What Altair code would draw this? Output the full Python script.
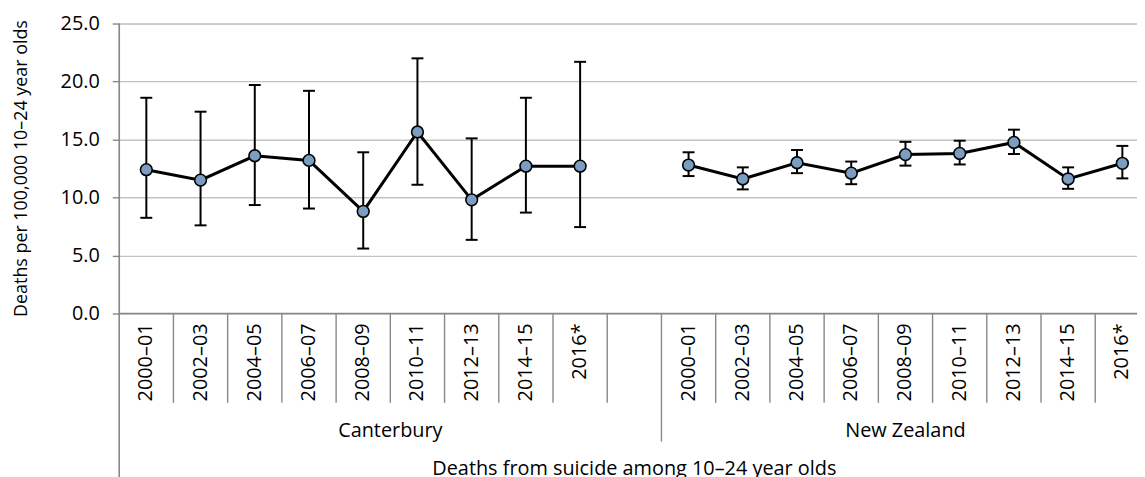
import altair as alt
import pandas as pd

# ---- data ----
periods = ["2000–01", "2002–03", "2004–05", "2006–07", "2008–09",
           "2010–11", "2012–13", "2014–15", "2016*"]
groups = ["Canterbury", "New Zealand"]

cant_rate = [12.4, 11.5, 13.6, 13.2, 8.8, 15.65, 9.8, 12.7, 12.7]
cant_low = [8.25, 7.6, 9.35, 9.05, 5.6, 11.1, 6.35, 8.7, 7.45]
cant_high = [18.6, 17.4, 19.7, 19.2, 13.9, 22.0, 15.1, 18.6, 21.7]

nz_rate = [12.8, 11.6, 13.0, 12.1, 13.7, 13.8, 14.75, 11.6, 12.95]
nz_low = [11.85, 10.7, 12.1, 11.15, 12.75, 12.85, 13.75, 10.75, 11.65]
nz_high = [13.9, 12.6, 14.1, 13.1, 14.8, 14.9, 15.85, 12.6, 14.45]

axis_title_y = "Deaths per 100,000 10–24 year olds"
axis_title_x = "Deaths from suicide among 10–24 year olds"

# ---- build tables ----
rows = []
series = [(cant_rate, cant_low, cant_high), (nz_rate, nz_low, nz_high)]
n = len(periods)
for g, (rate, low, high) in enumerate(series):
    for i, p in enumerate(periods):
        idx = g * (n + 1) + i
        rows.append({"group": groups[g], "period": p, "xc": idx + 0.5,
                     "rate": rate[i], "low": low[i], "high": high[i]})
df = pd.DataFrame(rows)

total_slots = 2 * n + 1
inner_bounds = pd.DataFrame({"b": [k for k in range(1, total_slots) if k != n + 1]})
group_bounds = pd.DataFrame({"b": [n + 1]})
group_labels = pd.DataFrame({"group": groups,
                             "xc": [(n + 1) / 2, (n + 1) + n / 2]})
title_df = pd.DataFrame({"t": [axis_title_x], "xc": [total_slots / 2]})
ytitle_df = pd.DataFrame({"t": [axis_title_y]})

FONT = "Open Sans"
GRAY = "#878787"
PLOT_H = 292
PLOT_W = 1025

xscale = alt.Scale(domain=[0, 18.77], nice=False, zero=False)
yscale = alt.Scale(domain=[0, 25], nice=False)

X = alt.X("xc:Q", scale=xscale, axis=None)

base = alt.Chart(df)

line = base.mark_line(color="black", strokeWidth=3).encode(
    x=X,
    y=alt.Y("rate:Q", scale=yscale,
            axis=alt.Axis(values=[0, 5, 10, 15, 20, 25], format=".1f",
                          title=None, grid=True, gridColor="#c3c3c3",
                          gridWidth=1.4, domain=False, tickColor=GRAY,
                          tickSize=7, tickWidth=1.4, labelPadding=13,
                          labelFont=FONT, labelFontSize=20,
                          labelColor="#000000")),
    detail="group:N",
)

err = base.mark_rule(color="black", strokeWidth=2).encode(
    x=X, y=alt.Y("low:Q", scale=yscale), y2="high:Q")

cap_hi = base.mark_tick(color="black", orient="horizontal", size=12,
                        thickness=2, opacity=1).encode(
    x=X, y=alt.Y("high:Q", scale=yscale))
cap_lo = base.mark_tick(color="black", orient="horizontal", size=12,
                        thickness=2, opacity=1).encode(
    x=X, y=alt.Y("low:Q", scale=yscale))

pts = base.mark_point(shape="circle", filled=True, fill="#7b9dc1",
                      stroke="black", strokeWidth=1.6, size=140,
                      opacity=1).encode(
    x=X, y=alt.Y("rate:Q", scale=yscale))

# axis decorations
x_domain = alt.Chart(title_df).mark_rule(color=GRAY, strokeWidth=1.6).encode(
    x=alt.value(0), x2=alt.value(PLOT_W), y=alt.value(PLOT_H))
y_domain = alt.Chart(title_df).mark_rule(color=GRAY, strokeWidth=1.6).encode(
    x=alt.value(0), y=alt.value(0), y2=alt.value(470))
seps = alt.Chart(inner_bounds).mark_rule(color=GRAY, strokeWidth=1.4).encode(
    x=alt.X("b:Q", scale=xscale, axis=None),
    y=alt.value(PLOT_H), y2=alt.value(PLOT_H + 90))
gseps = alt.Chart(group_bounds).mark_rule(color=GRAY, strokeWidth=1.4).encode(
    x=alt.X("b:Q", scale=xscale, axis=None),
    y=alt.value(PLOT_H), y2=alt.value(PLOT_H + 129))

period_text = base.mark_text(font=FONT, fontSize=20, angle=270, align="right",
                             baseline="middle", color="black").encode(
    x=X, y=alt.value(PLOT_H + 10), text="period:N")
group_text = alt.Chart(group_labels).mark_text(
    font=FONT, fontSize=20, align="center", baseline="alphabetic",
    color="black").encode(
    x=alt.X("xc:Q", scale=xscale, axis=None), y=alt.value(PLOT_H + 124),
    text="group:N")
xtitle = alt.Chart(title_df).mark_text(
    font=FONT, fontSize=20, align="center", baseline="alphabetic",
    color="black").encode(
    x=alt.X("xc:Q", scale=xscale, axis=None), y=alt.value(PLOT_H + 163),
    text="t:N")
ytitle = alt.Chart(ytitle_df).mark_text(
    font=FONT, fontSize=18, align="center", baseline="middle", angle=270,
    color="black").encode(
    x=alt.value(-98), y=alt.value(PLOT_H / 2), text="t:N")

chart = alt.layer(
    line, x_domain, y_domain, seps, gseps, err, cap_hi, cap_lo, pts,
    period_text, group_text, xtitle, ytitle,
).properties(
    width=PLOT_W, height=PLOT_H,
    autosize=alt.AutoSizeParams(type="none"),
    padding={"left": 112, "top": 14, "right": 0, "bottom": 163},
).configure_view(stroke=None).configure(background="white")

chart.save("out.html", embed_options={"renderer": "svg", "actions": False})
